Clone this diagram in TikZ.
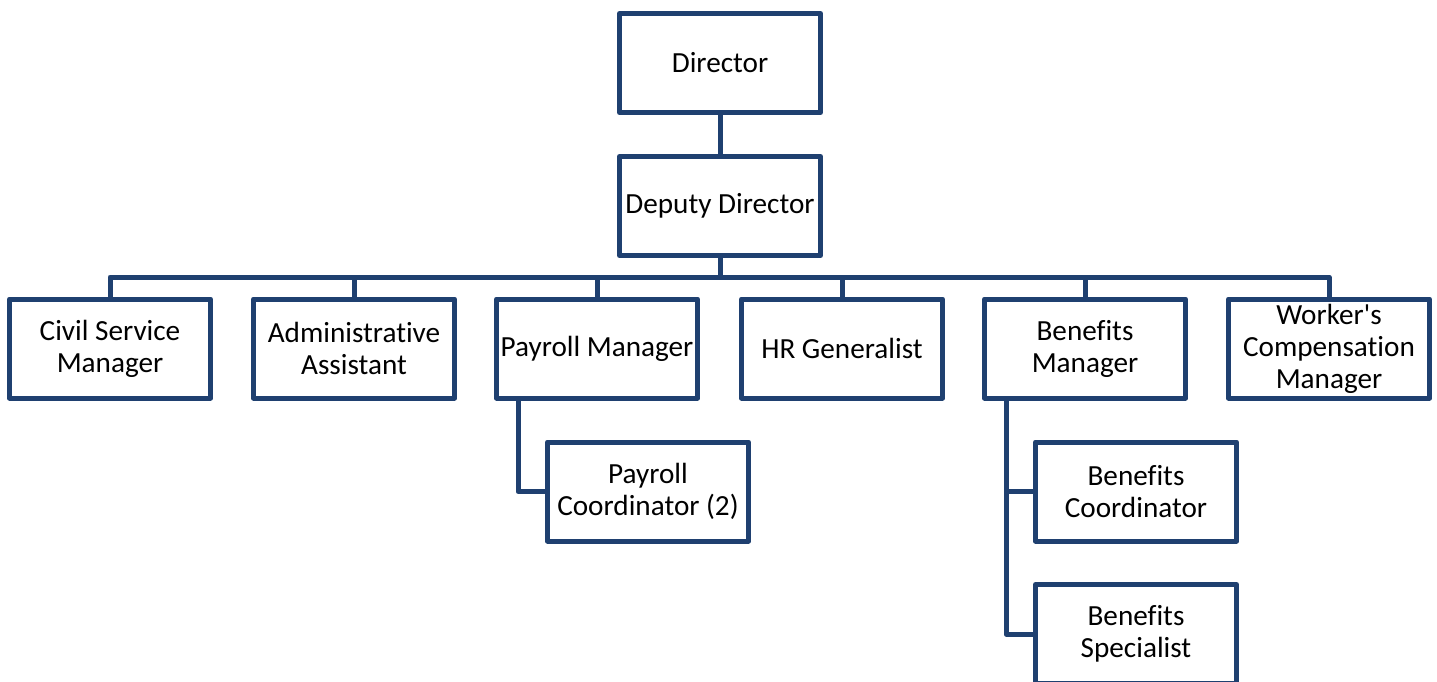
\documentclass[tikz,border=0pt]{standalone}
\usepackage{fontspec}
\setmainfont{Carlito}[RawFeature={-liga;-clig;-dlig}]
\definecolor{boxblue}{RGB}{31,64,112}
\begin{document}
\begin{tikzpicture}[x=0.5pt,y=-0.5pt,
  orgbox/.style={draw=boxblue, line width=2.5pt, line join=round, fill=white,
    minimum width=100.5pt, minimum height=49.5pt, inner sep=0pt, align=center,
    font=\fontsize{14.6}{16}\selectfont},
  link/.style={draw=boxblue, line width=2.5pt, line join=round}]
\useasboundingbox (0,0) rectangle (1437,681);
\clip (0,0) rectangle (1437,681);
\node[orgbox] (dir) at (720,63) {Director};
\node[orgbox] (dep) at (720,206) {Deputy Director};
\node[orgbox] (civ) at (110,348.5) {Civil Service\\Manager};
\node[orgbox] (adm) at (354,348.5) {Administrative\\Assistant};
\node[orgbox] (pay) at (597,348.5) {Payroll Manager};
\node[orgbox] (hrg) at (842,348.5) {HR Generalist};
\node[orgbox] (ben) at (1085,348.5) {Benefits\\Manager};
\node[orgbox] (wrk) at (1329,348.5) {Worker\textquotesingle s\\Compensation\\Manager};
\node[orgbox] (pco) at (648,491.5) {Payroll\\Coordinator (2)};
\node[orgbox] (bco) at (1136,491.5) {Benefits\\Coordinator};
\node[orgbox] (bsp) at (1136,634) {Benefits\\Specialist};
\coordinate (bus) at (720,277);
\draw[link] (dir.south) -- (dep.north);
\draw[link] (dep.south) -- (bus);
\draw[link] (civ.north) |- (bus) -| (wrk.north);
\foreach \n in {adm,pay,hrg,ben}{\draw[link] (\n.north) -- (\n.north |- bus);}
\draw[link] (pay.south -| 518,0) |- (pco.west);
\draw[link] (ben.south -| 1006,0) |- (bco.west);
\draw[link] (ben.south -| 1006,0) |- (bsp.west);
\end{tikzpicture}
\end{document}
